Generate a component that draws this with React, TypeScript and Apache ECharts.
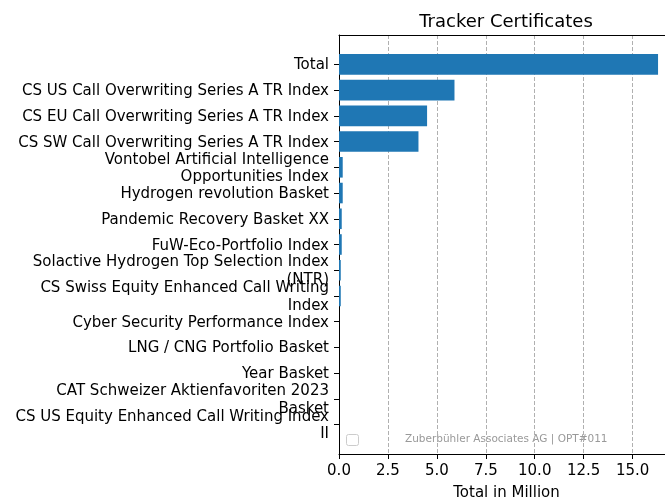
import React, { useEffect, useRef } from "react";
import * as echarts from "echarts";

const categories: string[] = [
  "Total",
  "CS US Call Overwriting Series A TR Index",
  "CS EU Call Overwriting Series A TR Index",
  "CS SW Call Overwriting Series A TR Index",
  "Vontobel Artificial Intelligence\nOpportunities Index",
  "Hydrogen revolution Basket",
  "Pandemic Recovery Basket XX",
  "FuW-Eco-Portfolio Index",
  "Solactive Hydrogen Top Selection Index\n(NTR)",
  "CS Swiss Equity Enhanced Call Writing\nIndex",
  "Cyber Security Performance Index",
  "LNG / CNG Portfolio Basket",
  "Year Basket",
  "CAT Schweizer Aktienfavoriten 2023\nBasket",
  "CS US Equity Enhanced Call Writing Index\nII",
];

const values: number[] = [16.3, 5.9, 4.5, 4.06, 0.19, 0.19, 0.14, 0.14, 0.09, 0.09, 0, 0, 0, 0, 0];

const xTickLabels: string[] = ["0.0", "2.5", "5.0", "7.5", "10.0", "12.5", "15.0"];

const titleText = "Tracker Certificates";
const xAxisName = "Total in Million";
const legendText = "Zuberbühler Associates AG | OPT#011";

export default function App() {
  const ref = useRef<HTMLDivElement>(null);
  useEffect(() => {
    if (!ref.current) return;
    const chart = echarts.init(ref.current, null, { renderer: "svg" });
    const font = "DejaVu Sans";
    const xMax = Math.max(...values) * 1.05;
    chart.setOption({
      animation: false,
      textStyle: { fontFamily: font },
      grid: [
        { left: 339, width: 335, top: 35, height: 419, containLabel: false, outerBoundsMode: "none" },
        { left: 339, width: 335, top: 51.5, height: 386, containLabel: false, outerBoundsMode: "none" },
      ],
      xAxis: [
        {
          type: "value",
          gridIndex: 0,
          min: 0,
          max: xMax,
          interval: 2.5,
          position: "bottom",
          axisLine: { show: true, lineStyle: { color: "#000", width: 1 } },
          axisTick: { show: true, length: 5, lineStyle: { color: "#000", width: 1 } },
          axisLabel: {
            show: true,
            showMaxLabel: false,
            margin: 8.5,
            fontSize: 15,
            color: "#000",
            fontFamily: font,
            formatter: (v: number) => {
              const i = Math.round(v / 2.5);
              return Math.abs(v - i * 2.5) < 1e-6 && i < xTickLabels.length ? xTickLabels[i] : "";
            },
          },
          splitLine: {
            show: true,
            lineStyle: { color: "#b0b0b0", type: [4, 2], width: 1 },
          },
          name: xAxisName,
          nameLocation: "middle",
          nameGap: 30.5,
          nameTextStyle: { fontSize: 15, color: "#000", fontFamily: font },
        },
        {
          type: "value",
          gridIndex: 1,
          min: 0,
          max: xMax,
          show: false,
        },
        {
          type: "value",
          gridIndex: 0,
          position: "top",
          min: 0,
          max: xMax,
          axisLine: { show: true, lineStyle: { color: "#000", width: 1 } },
          axisTick: { show: false },
          axisLabel: { show: false },
          splitLine: { show: false },
        },
      ],
      yAxis: [
        {
          type: "value",
          gridIndex: 0,
          min: 0,
          max: 1,
          axisLine: { show: true, lineStyle: { color: "#000", width: 1 } },
          axisTick: { show: false },
          axisLabel: { show: false },
          splitLine: { show: false },
        },
        {
          type: "category",
          gridIndex: 1,
          inverse: true,
          data: categories,
          axisLine: { show: false },
          axisTick: { show: true, alignWithLabel: true, length: 5, lineStyle: { color: "#000", width: 1 } },
          axisLabel: {
            margin: 10,
            fontSize: 15,
            lineHeight: 17.5,
            color: "#000",
            fontFamily: font,
            align: "right",
            interval: 0,
          },
          splitLine: { show: false },
        },
      ],
      series: [
        {
          type: "bar",
          xAxisIndex: 1,
          yAxisIndex: 1,
          data: values,
          barWidth: "80%",
          itemStyle: { color: "#1f77b4" },
        },
      ],
      graphic: [
        {
          type: "text",
          x: 506,
          y: 20,
          style: {
            text: titleText,
            fontSize: 18,
            fontFamily: font,
            fill: "#000",
            textAlign: "center",
            textVerticalAlign: "middle",
          },
        },
        {
          type: "rect",
          shape: { x: 346.5, y: 434.5, width: 12, height: 11, r: 2 },
          style: { fill: "none", stroke: "#cccccc", lineWidth: 1 },
        },
        {
          type: "text",
          x: 405,
          y: 438,
          style: {
            text: legendText,
            fontSize: 10.5,
            fontFamily: font,
            fill: "#999999",
            textAlign: "left",
            textVerticalAlign: "middle",
          },
        },
      ],
    });
    return () => chart.dispose();
  }, []);
  return (
    <div
      ref={ref}
      style={{ position: "fixed", left: 0, top: 0, width: 665, height: 497 }}
    />
  );
}
